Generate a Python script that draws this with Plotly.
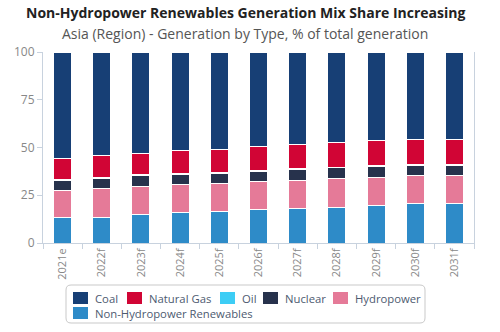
import plotly.graph_objects as go

years = ["2021e", "2022f", "2023f", "2024f", "2025f", "2026f", "2027f", "2028f", "2029f", "2030f", "2031f"]
non_hydro = [13.1, 13.6, 14.9, 15.9, 16.4, 17.5, 18.0, 18.5, 19.7, 20.6, 20.7]
hydropower = [14.3, 14.7, 14.8, 14.8, 14.9, 14.6, 14.8, 15.2, 14.5, 14.5, 14.4]
nuclear = [5.3, 5.6, 5.4, 5.3, 5.2, 5.4, 5.9, 5.6, 6.0, 5.7, 5.7]
oil = [0.7, 0.6, 0.6, 0.5, 0.5, 0.5, 0.4, 0.4, 0.4, 0.4, 0.4]
natural_gas = [11.1, 11.1, 11.4, 11.7, 11.9, 12.3, 12.4, 12.9, 13.0, 13.1, 13.2]
coal = [55.5, 54.4, 52.9, 51.8, 51.1, 49.7, 48.5, 47.4, 46.4, 45.7, 45.6]

series_names = ["Non-Hydropower Renewables", "Hydropower", "Nuclear", "Oil", "Natural Gas", "Coal"]
series_values = [non_hydro, hydropower, nuclear, oil, natural_gas, coal]
series_colors = ["#2e8bc8", "#e57a98", "#27324c", "#3dcdf5", "#d10535", "#173f75"]

# legend layout (reference legend order, row, swatch left in px)
legend_order = ["Coal", "Natural Gas", "Oil", "Nuclear", "Hydropower", "Non-Hydropower Renewables"]
legend_rows = [0, 0, 0, 0, 0, 1]
legend_left = [73, 127, 220, 263, 333, 73]

FONT = "Open Sans"
W, H = 500, 332
ML, MR, MT, MB = 43, 26, 52, 89
PW, PH = W - ML - MR, H - MT - MB


def px_x(px):
    return (px - ML) / PW


def px_y(py):
    return (H - MB - py) / PH


fig = go.Figure()
for name, vals, color in zip(series_names, series_values, series_colors):
    fig.add_trace(go.Bar(
        x=years, y=vals, name=name,
        marker=dict(color=color, line=dict(color="white", width=1)),
    ))

cx = px_x(245)
annotations = [
    dict(text="<b>Non-Hydropower Renewables Generation Mix Share Increasing</b>",
         x=cx, xref="paper", xanchor="center",
         y=px_y(12), yref="paper", yanchor="middle",
         showarrow=False, font=dict(family=FONT, size=14, color="#222222")),
    dict(text="Asia (Region) - Generation by Type, % of total generation",
         x=cx, xref="paper", xanchor="center",
         y=px_y(33), yref="paper", yanchor="middle",
         showarrow=False, font=dict(family=FONT, size=14, color="#555555")),
]
shapes = []

# legend box (rounded)
bx0, bx1, by0, by1, r = 66, 425, 285, 323, 5
path = (f"M {px_x(bx0 + r)},{px_y(by0)} L {px_x(bx1 - r)},{px_y(by0)} "
        f"Q {px_x(bx1)},{px_y(by0)} {px_x(bx1)},{px_y(by0 + r)} "
        f"L {px_x(bx1)},{px_y(by1 - r)} Q {px_x(bx1)},{px_y(by1)} {px_x(bx1 - r)},{px_y(by1)} "
        f"L {px_x(bx0 + r)},{px_y(by1)} Q {px_x(bx0)},{px_y(by1)} {px_x(bx0)},{px_y(by1 - r)} "
        f"L {px_x(bx0)},{px_y(by0 + r)} Q {px_x(bx0)},{px_y(by0)} {px_x(bx0 + r)},{px_y(by0)} Z")
shapes.append(dict(type="path", path=path, xref="paper", yref="paper",
                   line=dict(color="#c9c9c9", width=1), fillcolor="rgba(0,0,0,0)", layer="above"))

row_y = [298, 313]
for name, row, left in zip(legend_order, legend_rows, legend_left):
    color = series_colors[series_names.index(name)]
    yc = row_y[row]
    shapes.append(dict(type="rect", xref="paper", yref="paper",
                       x0=px_x(left), x1=px_x(left + 15), y0=px_y(yc - 6), y1=px_y(yc + 6),
                       fillcolor=color, line=dict(width=0), layer="above"))
    annotations.append(dict(text=name, x=px_x(left + 20), xref="paper", xanchor="left",
                            y=px_y(yc), yref="paper", yanchor="middle", showarrow=False,
                            font=dict(family=FONT, size=11.3, color="#4d5a70")))

fig.update_layout(
    width=W, height=H,
    barmode="stack", bargap=0.54,
    paper_bgcolor="white", plot_bgcolor="white",
    margin=dict(l=ML, r=MR, t=MT, b=MB, autoexpand=False),
    font=dict(family=FONT, color="#777777"),
    showlegend=False,
    annotations=annotations,
    shapes=shapes,
)

fig.update_xaxes(
    type="category", tickangle=-90, tickson="boundaries",
    ticks="outside", ticklen=5, tickcolor="#c8d2de",
    showline=True, linecolor="#c8d2de", linewidth=1,
    tickfont=dict(family=FONT, size=11, color="#888888"),
    range=[-0.5, 10.5],
)
fig.update_yaxes(
    range=[0, 100], tickvals=[0, 25, 50, 75, 100],
    ticks="outside", ticklen=5, tickcolor="#c8d2de",
    showline=True, linecolor="#c8d2de", linewidth=1, mirror=True,
    showgrid=False, zeroline=False,
    tickfont=dict(family=FONT, size=12, color="#888888"),
)

fig.write_html("out.html")
